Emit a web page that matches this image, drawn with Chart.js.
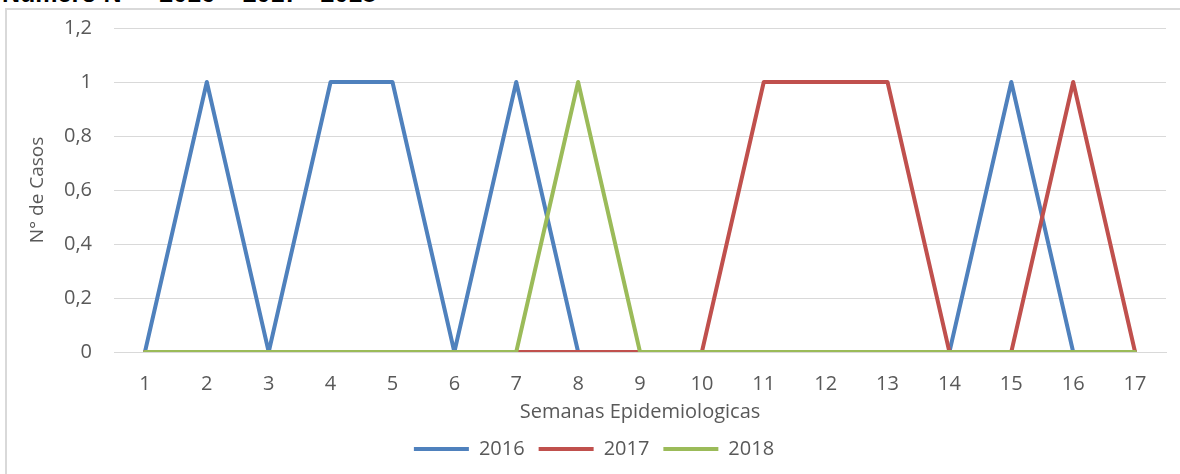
<!DOCTYPE html>
<html>
<head>
<meta charset="utf-8">
<script src="https://cdn.jsdelivr.net/npm/chart.js@4/dist/chart.umd.min.js"></script>
<style>
  html, body { margin: 0; padding: 0; background: #fff; overflow: hidden; }
  #wrap { position: relative; width: 1180px; height: 474px; }
  #title { position: absolute; left: 2px; top: -21px; font: bold 25px "Liberation Sans", Arial, sans-serif; color: #000; white-space: nowrap; }
  #frame { position: absolute; left: 5px; top: 8px; width: 1180px; height: 480px; border-top: 2px solid #d9d9d9; border-left: 2px solid #d9d9d9; box-sizing: border-box; }
  #box { position: absolute; left: 0; top: 0; width: 1180px; height: 474px; }
</style>
</head>
<body>
<div id="wrap">
  <div id="title">Número N° – 2016 – 2017 - 2018</div>
  <div id="frame"></div>
  <div id="box"><canvas id="chart"></canvas></div>
</div>
<script>
// semanas epidemiologicas 1..17
const semanas = ['1','2','3','4','5','6','7','8','9','10','11','12','13','14','15','16','17'];
const casos2016 = [0, 1, 0, 1, 1, 0, 1, 0, 0, 0, 0, 0, 0, 0, 1, 0, 0];
const casos2017 = [0, 0, 0, 0, 0, 0, 0, 0, 0, 0, 1, 1, 1, 0, 0, 1, 0];
const casos2018 = [0, 0, 0, 0, 0, 0, 0, 1, 0, 0, 0, 0, 0, 0, 0, 0, 0];

const FONT = '"Open Sans", sans-serif';
const GREY = '#595959';

function serie(label, data, color, order) {
    return {
        label, data, order,
        borderColor: color, backgroundColor: color,
        borderWidth: 4, pointRadius: 0, tension: 0,
        borderCapStyle: 'round', borderJoinStyle: 'round',
        pointStyle: 'line'
    };
}

new Chart(document.getElementById('chart'), {
    type: 'line',
    data: {
        labels: semanas,
        datasets: [
            serie('2016', casos2016, '#4f81bd', 3),
            serie('2017', casos2017, '#c0504d', 2),
            serie('2018', casos2018, '#9bbb59', 1)
        ]
    },
    options: {
        responsive: true, maintainAspectRatio: false, animation: false,
        layout: { padding: { left: 22, top: 28, right: 14, bottom: 5 } },
        scales: {
            x: {
                offset: true,
                grid: { display: false, drawTicks: false },
                border: { color: '#d9d9d9', width: 1 },
                ticks: { color: GREY, font: { family: FONT, size: 20 }, padding: 20, maxRotation: 0 },
                title: { display: true, text: 'Semanas Epidemiologicas', color: GREY, font: { family: FONT, size: 20 }, padding: { top: 4, bottom: 1 } },
                afterFit: s => { s.height = 73; }
            },
            y: {
                min: 0, max: 1.2,
                grid: { color: '#d9d9d9', lineWidth: 1, drawTicks: false },
                border: { display: false },
                ticks: {
                    stepSize: 0.2, color: GREY, font: { family: FONT, size: 20 }, padding: 22,
                    callback: v => String(Math.round(v * 10) / 10).replace('.', ',')
                },
                title: { display: true, text: 'N° de Casos', color: GREY, font: { family: FONT, size: 19 }, padding: { top: 4, bottom: 4 } },
                afterFit: s => { s.width = 92; s.paddingTop = 0; s.paddingBottom = 0; }
            }
        },
        plugins: {
            legend: {
                position: 'bottom',
                labels: {
                    usePointStyle: true, pointStyleWidth: 55, boxHeight: 4,
                    color: GREY, font: { family: FONT, size: 20 }, padding: 14,
                    sort: (a, b) => a.datasetIndex - b.datasetIndex
                }
            },
            tooltip: { enabled: false }
        }
    }
});
</script>
</body>
</html>
